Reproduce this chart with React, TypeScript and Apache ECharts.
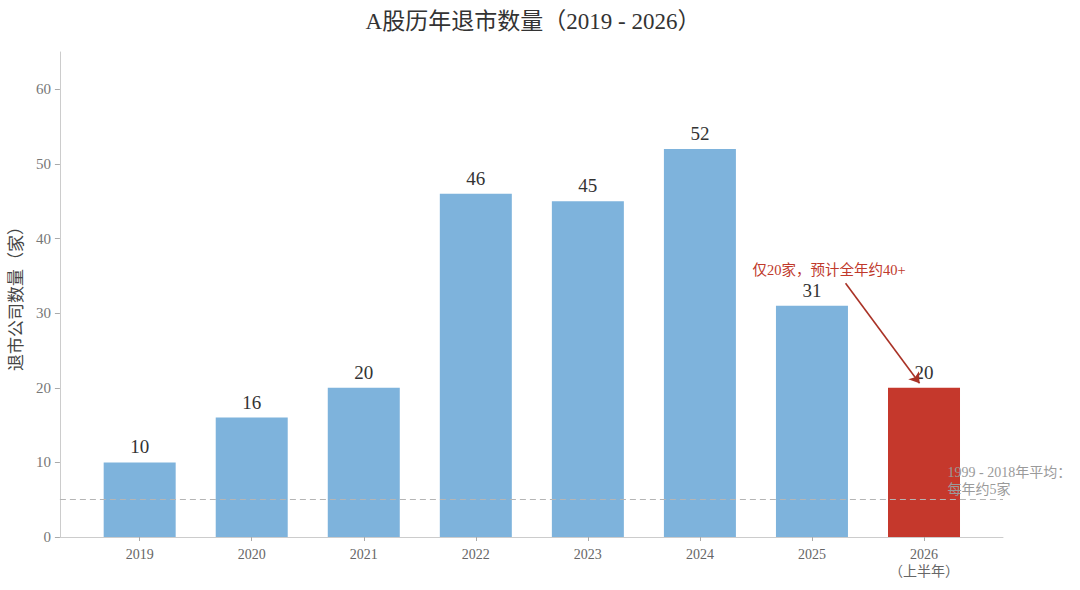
import React, { useEffect, useRef } from "react";
import * as echarts from "echarts";

const years = ["2019", "2020", "2021", "2022", "2023", "2024", "2025", "2026\n（上半年）"];
const counts = [10, 16, 20, 46, 45, 52, 31, 20];
const avgValue = 5;
const yTicks = [0, 10, 20, 30, 40, 50, 60];
const xTicks = [0, 1, 2, 3, 4, 5, 6, 7];
const arrowFrom = [6.3, 34.0];
const arrowTo = [6.96, 20.6];
const noteText = "仅20家，预计全年约40+";
const notePos = [5.47, 35.8];
const avgText = "1999 - 2018年平均：\n每年约5家";
const avgTextPos = [7.21, 9.8];

const BLUE = "#7eb3dc";
const RED = "#c5382c";
const SERIF = "'Liberation Serif', 'DejaVu Serif', 'Noto Sans CJK SC', serif";

export default function App() {
  const ref = useRef<HTMLDivElement>(null);
  useEffect(() => {
    document.body.style.margin = "0";
    const chart = echarts.init(ref.current!, null, { renderer: "svg" });
    chart.setOption({
      animation: false,
      backgroundColor: "#ffffff",
      title: {
        text: "A股历年退市数量（2019 - 2026）",
        left: 528,
        textAlign: "center",
        top: 5,
        textStyle: { fontFamily: SERIF, fontSize: 23, fontWeight: "normal", color: "#333" },
      },
      grid: { left: 58, right: 77, top: 52, bottom: 53 },
      xAxis: {
        type: "value",
        min: -0.712,
        max: 7.705,
        axisLine: { show: true, onZero: false, lineStyle: { color: "#cccccc" } },
        axisTick: { show: true, length: 4, customValues: xTicks, lineStyle: { color: "#aaaaaa" } },
        splitLine: { show: false },
        axisLabel: {
          customValues: xTicks,
          formatter: (v: number) => years[Math.round(v)] ?? "",
          fontFamily: SERIF,
          fontSize: 14,
          color: "#666",
          lineHeight: 17,
          margin: 9,
        },
      },
      yAxis: {
        type: "value",
        min: 0,
        max: 65,
        name: "退市公司数量（家）",
        nameLocation: "middle",
        nameGap: 34,
        nameTextStyle: { fontFamily: SERIF, fontSize: 17, color: "#444" },
        axisLine: { show: true, onZero: false, lineStyle: { color: "#cccccc" } },
        axisTick: { show: true, length: 5, customValues: yTicks, lineStyle: { color: "#aaaaaa" } },
        splitLine: { show: false },
        axisLabel: {
          customValues: yTicks,
          fontFamily: SERIF,
          fontSize: 15,
          color: "#777",
          margin: 9,
        },
      },
      series: [
        {
          type: "bar",
          barWidth: 72,
          data: counts.map((v, i) => ({
            value: [i, v],
            itemStyle: { color: i === counts.length - 1 ? RED : BLUE },
          })),
          label: {
            show: true,
            position: "top",
            distance: 6,
            formatter: (p: any) => String(p.value[1]),
            fontFamily: SERIF,
            fontSize: 19,
            color: "#333",
          },
          markLine: {
            silent: true,
            animation: false,
            label: { show: false },
            data: [
              {
                yAxis: avgValue,
                symbol: "none",
                lineStyle: { color: "#b5b5b5", type: [6, 4], width: 1 },
              },
              [
                { coord: arrowFrom, symbol: "none" },
                {
                  coord: arrowTo,
                  symbol: "arrow",
                  symbolSize: 10,
                  lineStyle: { color: "#a93226", type: "solid", width: 1.6 },
                },
              ],
            ],
            symbol: ["none", "none"],
          },
          z: 2,
        },
      ],
    });
    const p1 = chart.convertToPixel({ gridIndex: 0 }, notePos);
    const p2 = chart.convertToPixel({ gridIndex: 0 }, avgTextPos);
    chart.setOption({
      graphic: [
        {
          type: "text",
          x: p1[0],
          y: p1[1],
          style: {
            text: noteText,
            fill: "#c0392b",
            font: "14.5px " + SERIF,
            textVerticalAlign: "middle",
          },
          z: 10,
        },
        {
          type: "text",
          x: p2[0],
          y: p2[1],
          style: {
            text: avgText,
            fill: "#9a9a9a",
            font: "14px " + SERIF,
            lineHeight: 17,
          },
          z: 10,
        },
      ],
    });
    return () => chart.dispose();
  }, []);
  return <div ref={ref} style={{ width: 1080, height: 590 }} />;
}
